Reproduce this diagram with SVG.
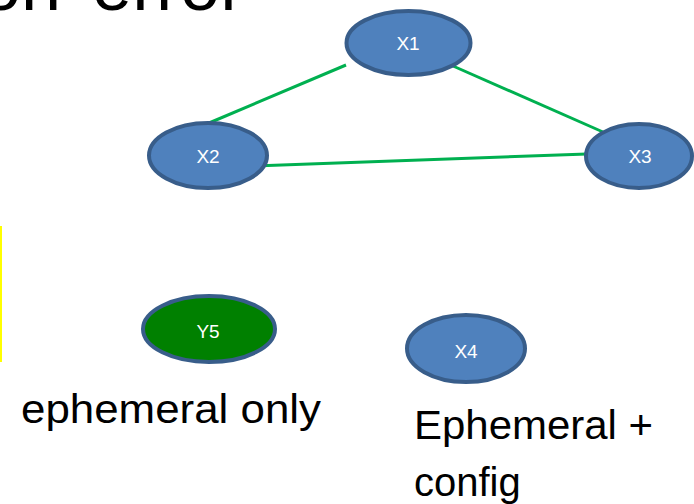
<svg xmlns="http://www.w3.org/2000/svg" width="694" height="504" viewBox="0 0 694 504">
  <style>
    .node { fill: #4F81BD; stroke: #385D8A; stroke-width: 4; }
    .node.green { fill: #008000; }
    .lbl { font-family: "Liberation Sans", Arial, sans-serif; font-size: 19px; fill: #FFFFFF; text-anchor: middle; }
    .edge { stroke: #00B050; stroke-width: 3; fill: none; }
    .big { font-family: "Liberation Sans", Arial, sans-serif; font-size: 40px; fill: #000000; }
  </style>
  <rect width="694" height="504" fill="#FFFFFF"/>

  <!-- heading, mostly above the visible area -->
  <text x="-19" y="10" font-family="Liberation Sans, Arial, sans-serif" font-size="72" word-spacing="11" fill="#000000">on error</text>

  <!-- yellow bar on the left edge -->
  <rect x="0" y="226" width="2" height="136" fill="#FFFF00"/>

  <g id="connectors">
    <line class="edge" x1="346" y1="65" x2="209" y2="123"/>
    <line class="edge" x1="453" y1="66" x2="603" y2="132"/>
    <line class="edge" x1="254" y1="166" x2="587" y2="154"/>
  </g>

  <g id="X1">
    <ellipse class="node" cx="408.5" cy="43" rx="62" ry="32"/>
    <text class="lbl" x="408" y="50">X1</text>
  </g>
  <g id="X2">
    <ellipse class="node" cx="208" cy="155.5" rx="59" ry="32.5"/>
    <text class="lbl" x="208" y="163">X2</text>
  </g>
  <g id="X3">
    <ellipse class="node" cx="639" cy="156" rx="53" ry="32"/>
    <text class="lbl" x="640" y="163">X3</text>
  </g>
  <g id="Y5">
    <ellipse class="node green" cx="209" cy="329" rx="66" ry="33"/>
    <text class="lbl" x="208" y="338">Y5</text>
  </g>
  <g id="X4">
    <ellipse class="node" cx="466" cy="348.5" rx="59" ry="33.5"/>
    <text class="lbl" x="466" y="358">X4</text>
  </g>

  <text class="big" x="21" y="423" textLength="300" lengthAdjust="spacingAndGlyphs">ephemeral only</text>
  <text class="big" x="414" y="439" textLength="239" lengthAdjust="spacingAndGlyphs">Ephemeral +</text>
  <text class="big" x="414" y="496">config</text>
</svg>
